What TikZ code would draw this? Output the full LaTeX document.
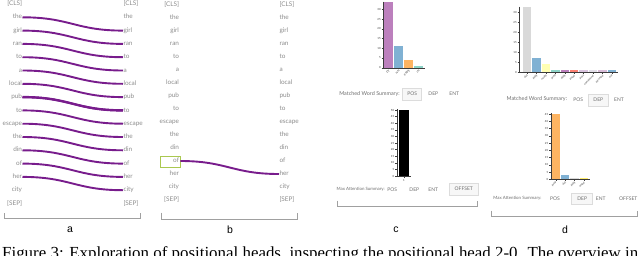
\documentclass[tikz,border=0pt]{standalone}
\usepackage{fontspec}
\usepackage{graphicx}
\setmainfont{Lato}
\newfontfamily\helvf{Liberation Sans}
\newfontfamily\capf{Liberation Serif}
\definecolor{attnpurple}{RGB}{120,28,140}
\definecolor{wordgray}{RGB}{140,140,140}
\definecolor{brkgray}{RGB}{160,160,160}
\definecolor{selgreen}{RGB}{170,200,80}
\definecolor{tabgray}{RGB}{110,110,110}
\definecolor{boxgray}{RGB}{220,220,220}
\definecolor{axgray}{RGB}{60,60,60}
\definecolor{sPurple}{HTML}{BC80BD}
\definecolor{sBlue}{HTML}{80B1D3}
\definecolor{sOrange}{HTML}{FDB462}
\definecolor{sTeal}{HTML}{8DD3C7}
\definecolor{sGray}{HTML}{D9D9D9}
\definecolor{sYellow}{HTML}{FFFFB3}
\definecolor{sYellowB}{HTML}{FFED6F}
\definecolor{sRed}{HTML}{FB8072}
\definecolor{sPinkA}{HTML}{D9C3DE}
\definecolor{sPinkB}{HTML}{E2DEE8}
\definecolor{sPinkC}{HTML}{D8BCD8}
\tikzset{
  word/.style={font=\fontsize{6.4}{7}\selectfont, text=wordgray, inner sep=0.3pt, text height=4.6pt, text depth=1.3pt},
  lw/.style={word, anchor=east},
  rw/.style={word, anchor=west},
  attn/.style={draw=attnpurple, line width=1.9pt},
  brk/.style={draw=brkgray, line width=0.6pt},
  plabel/.style={font=\helvf\fontsize{10.5}{12}\selectfont, inner sep=0},
  tabtxt/.style={font=\fontsize{5}{6}\selectfont, text=tabgray, inner sep=0},
  tabsel/.style={tabtxt, draw=boxgray, fill=white!97!black, line width=0.5pt},
  summA/.style={font=\fontsize{5.4}{6}\selectfont, text=tabgray, inner sep=0, anchor=east},
  summB/.style={font=\fontsize{4.4}{5}\selectfont, text=tabgray, inner sep=0, anchor=east},
  ytl/.style={font=\fontsize{2.8}{3}\selectfont, text=axgray, inner sep=0.4pt, anchor=east},
  xtl/.style={font=\fontsize{2.8}{3}\selectfont, text=axgray, inner sep=0.3pt, anchor=east, rotate=45},
  axis/.style={draw=axgray, line width=0.35pt},
  selbox/.style={draw=selgreen, line width=0.8pt}
}
\begin{document}
\begin{tikzpicture}[x=1pt,y=-1pt]
\useasboundingbox (0,0) rectangle (640,255);
% ---------- panel a ----------
\foreach \w [count=\i from 0] in {{[CLS]},the,girl,ran,to,a,local,pub,to,escape,the,din,of,her,city,{[SEP]}}{
  \node[lw] (La\i) at (22.5,{4+13.3*\i}) {\w};
  \node[rw] (Ra\i) at (123,{4+13.3*\i}) {\w};
}
\foreach \i in {1,...,13}{
  \pgfmathtruncatemacro{\j}{\i+1}
  \draw[attn] (La\i.east) to[out=0,in=180,looseness=1.2] (Ra\j.west);
}
\draw[attn,line width=2.4pt] (La7.east) to[out=0,in=180,looseness=1.2] (Ra8.west);
\draw[brk] (4,213) -- (4,218.3) -- (140.7,218.3) -- (140.7,213);
\node[plabel] (la) at (70,229.5) {a};
% ---------- panel b ----------
\foreach \w [count=\i from 0] in {{[CLS]},the,girl,ran,to,a,local,pub,to,escape,the,din,of,her,city,{[SEP]}}{
  \node[lw] (Lb\i) at (179.5,{5+13*\i}) {\w};
  \node[rw] (Rb\i) at (279,{5+13*\i}) {\w};
}
\draw[selbox] (160,156) rectangle (180.3,167.7);
\draw[attn] (Lb12.east) ++(0.8,0) to[out=0,in=180,looseness=1.2] (Rb13.west);
\draw[brk] (161.7,212.5) -- (161.7,219) -- (297.3,219) -- (297.3,212.5);
\node[plabel] (lb) at (230,229.5) {b};
% ---------- panel c, top chart ----------
\fill[sPurple] (384.3,67.7) rectangle (393.3,1.7);
\fill[sBlue]   (394.3,67.7) rectangle (403.3,46.4);
\fill[sOrange] (404.3,67.7) rectangle (413.3,60.0);
\fill[sTeal]   (414.3,67.7) rectangle (423.3,65.8);
\draw[axis] (383.3,1.5) -- (383.3,67.7) -- (425,67.7);
\foreach \v in {0,5,...,30}{
  \draw[axis] (381.5,{67.7-1.94*\v}) -- (383.3,{67.7-1.94*\v});
  \node[ytl] at (381.3,{67.7-1.94*\v}) {\v};
}
\foreach \xc/\t in {388.8/DT,398.8/NN,408.8/PRP\$,418.8/IN}{
  \draw[axis] (\xc,67.7) -- (\xc,69.2);
  \node[xtl] at ({\xc+0.8},70.3) {\t};
}
\node[summA] (cms1) at (400,94) {Matched Word Summary:};
\node[tabsel, minimum width=19pt, minimum height=11.7pt] (cpos1) at (412.2,94.2) {POS};
\node[tabtxt] (cdep1) at (433.3,94.2) {DEP};
\node[tabtxt] (cent1) at (454.3,94.2) {ENT};
% ---------- panel c, bottom chart ----------
\fill[black] (399.3,176) rectangle (408.7,110);
\draw[axis] (396.7,109) -- (396.7,176) -- (411,176);
\foreach \v in {0,5,...,50}{
  \draw[axis] (395,{176-1.32*\v}) -- (396.7,{176-1.32*\v});
  \node[ytl] at (394.8,{176-1.32*\v}) {\v};
}
\draw[axis] (404,176) -- (404,177.5);
\node[font=\fontsize{2.8}{3}\selectfont, text=axgray, inner sep=0] (cone) at (404,180.5) {1};
\node[summB] (cma) at (385,189.3) {Max Attention Summary:};
\node[tabtxt] (cpos2) at (392.3,189.3) {POS};
\node[tabtxt] (cdep2) at (414.3,189.3) {DEP};
\node[tabtxt] (cent2) at (433.3,189.3) {ENT};
\node[tabsel, minimum width=29pt, minimum height=11.7pt] (coff2) at (463.8,189.2) {OFFSET};
\draw[brk] (337,200.5) -- (337,206.7) -- (477.7,206.7) -- (477.7,200.5);
\node[plabel] (lc) at (396,230) {c};
% ---------- panel d, top chart ----------
\foreach \k/\v/\c in {0/32.8/sGray,1/7/sBlue,2/4/sYellow,3/1/sTeal,4/1/sPurple,5/1/sRed,6/1/sPinkA,7/1/sPinkB,8/1/sPinkC,9/1/sBlue}{
  \fill[\c] ({522.7+9.45*\k},72.3) rectangle ({531.2+9.45*\k},{72.3-2*\v});
}
\draw[axis] (519.3,6.5) -- (519.3,72.3) -- (618,72.3);
\foreach \v in {0,5,...,30}{
  \draw[axis] (517.5,{72.3-2*\v}) -- (519.3,{72.3-2*\v});
  \node[ytl] at (517.3,{72.3-2*\v}) {\v};
}
\foreach \k/\t in {0/det,1/pobj,2/nsubj,3/prep,4/dobj,5/amod,6/poss,7/compound,8/advmod,9/aux}{
  \draw[axis] ({526.95+9.45*\k},72.3) -- ({526.95+9.45*\k},73.8);
  \node[xtl] at ({527.7+9.45*\k},75) {\t};
}
\node[summA] (dms1) at (567.3,99) {Matched Word Summary:};
\node[tabtxt] (dpos1) at (578.3,99.5) {POS};
\node[tabsel, minimum width=20pt, minimum height=11.7pt] (ddep1) at (598.3,100.2) {DEP};
\node[tabtxt] (dent1) at (619,99.5) {ENT};
% ---------- panel d, bottom chart ----------
\fill[sOrange]  (551.7,179.3) rectangle (560,114);
\fill[sBlue]    (561,179.3) rectangle (569.3,175);
\fill[sGray]    (570.3,179.3) rectangle (578.6,177.8);
\fill[sYellowB] (579.6,179.3) rectangle (588,177.8);
\draw[axis] (550.7,113) -- (550.7,179.3) -- (590,179.3);
\foreach \v in {0,5,...,45}{
  \draw[axis] (549,{179.3-1.45*\v}) -- (550.7,{179.3-1.45*\v});
  \node[ytl] at (548.8,{179.3-1.45*\v}) {\v};
}
\foreach \k/\t in {0/prep,1/det,2/pobj,3/amod}{
  \draw[axis] ({555.85+9.3*\k},179.3) -- ({555.85+9.3*\k},180.8);
  \node[xtl] at ({556.6+9.3*\k},182) {\t};
}
\node[summB] (dma) at (541.7,198.3) {Max Attention Summary:};
\node[tabtxt] (dpos2) at (555,198.8) {POS};
\node[tabsel, minimum width=21pt, minimum height=11pt] (ddep2) at (582.2,198.8) {DEP};
\node[tabtxt] (dent2) at (600.7,198.8) {ENT};
\node[tabtxt] (doff2) at (628.3,198.8) {OFFSET};
\draw[brk] (491.7,210.5) -- (491.7,216.7) -- (637.3,216.7) -- (637.3,210.5);
\node[plabel] (ld) at (565,230) {d};
% ---------- caption (cut off, as in the reference) ----------
\node[anchor=north west, inner sep=0] (cap) at (2,246.3) {\resizebox{636pt}{!}{\capf\fontsize{15}{18}\selectfont Figure 3: Exploration of positional heads, inspecting the positional head 2-0. The overview in}};
\end{tikzpicture}
\end{document}
